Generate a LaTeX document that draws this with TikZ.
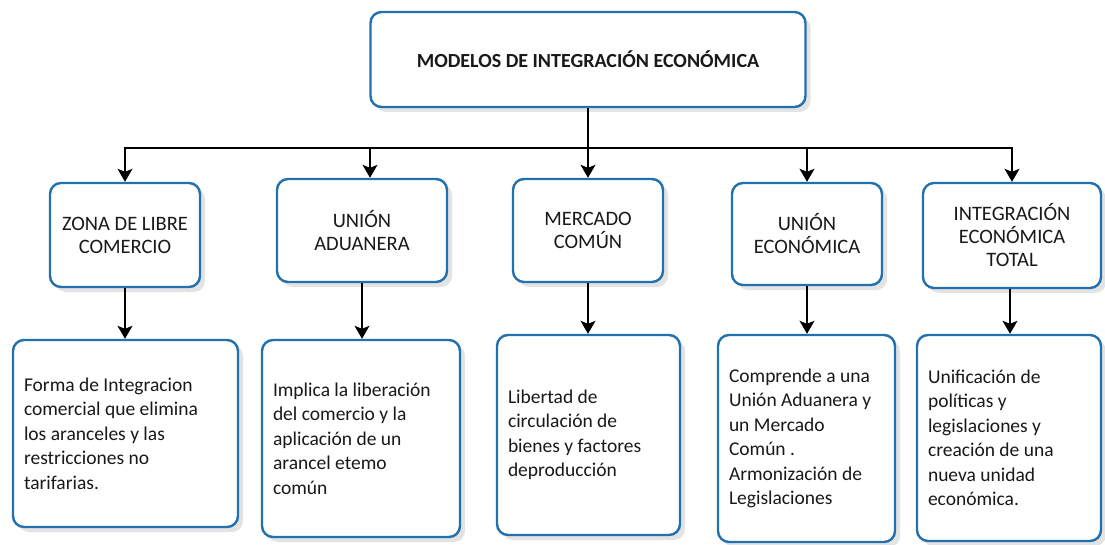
\documentclass[tikz,border=0pt]{standalone}
\usepackage{fontspec}
\setmainfont{Carlito}
\usetikzlibrary{arrows.meta,shadows}
\definecolor{boxblue}{RGB}{35,112,175}
\definecolor{inkgray}{RGB}{25,25,25}

\begin{document}
\begin{tikzpicture}[x=1pt,y=-1pt,
    box/.style={rectangle,rounded corners=11pt,draw=boxblue,line width=2.4pt,
      fill=white,text=inkgray,
      drop shadow={shadow xshift=5pt,shadow yshift=-5pt,opacity=.22}},
    head/.style={font=\fontsize{20}{24}\selectfont\bfseries},
    kind/.style={font=\fontsize{20.5}{23}\selectfont,align=center},
    desc/.style={font=\fontsize{19.5}{24.5}\selectfont,align=flush left,inner xsep=11pt},
    link/.style={draw=black,line width=1.4pt,
      -{Stealth[length=13pt,width=15pt,inset=3pt]}}]

    \useasboundingbox (0,0) rectangle (1105,545);

    % Top box
    \node[box,head,minimum width=435pt,minimum height=95pt] (top) at (588,59.5)
      {MODELOS DE INTEGRACIÓN ECONÓMICA};

    % Second row
    \node[box,kind,minimum width=150pt,minimum height=104pt] (zona) at (125,235)
      {ZONA DE LIBRE\\COMERCIO};
    \node[box,kind,minimum width=170pt,minimum height=103pt] (ua) at (362,230.5)
      {UNIÓN\\ADUANERA};
    \node[box,kind,minimum width=150pt,minimum height=103pt] (mc) at (588,230.5)
      {MERCADO\\COMÚN};
    \node[box,kind,minimum width=150pt,minimum height=102pt] (ue) at (807,234)
      {UNIÓN\\ECONÓMICA};
    \node[box,kind,minimum width=178pt,minimum height=105pt] (iet) at (1012,235.5)
      {INTEGRACIÓN\\ECONÓMICA\\TOTAL};

    % Description boxes
    \node[box,desc,text width=203pt,minimum height=187pt] (d1) at (125.5,433.5)
      {Forma de Integracion\\comercial que elimina\\los aranceles y las\\restricciones no\\tarifarias.};
    \node[box,desc,text width=176pt,minimum height=197pt] (d2) at (361,438.5)
      {Implica la liberación\\del comercio y la\\aplicación de un\\arancel etemo\\común};
    \node[box,desc,text width=161pt,minimum height=200pt] (d3) at (588.5,435)
      {Libertad de\\circulación de\\bienes y factores\\deproducción};
    \node[box,desc,text width=155pt,minimum height=207pt] (d4) at (806.5,438.5)
      {Comprende a una\\Unión Aduanera y\\un Mercado\\Común .\\Armonización de\\Legislaciones};
    \node[box,desc,text width=162pt,minimum height=206pt] (d5) at (1009,438)
      {Unificación de\\políticas y\\legislaciones y\\creación de una\\nueva unidad\\económica.};

    % Tree connectors
    \coordinate (hub) at ([yshift=-40pt]top.south);
    \coordinate (uain) at ([xshift=8pt]ua.north);
    \draw[link] (top.south) -- (hub) -- (zona.north |- hub)
      [rounded corners=6pt] -- (zona.north);
    \draw[link] (top.south) -- (hub) -- (uain |- hub)
      [rounded corners=6pt] -- (uain);
    \draw[link] (top.south) -- (mc.north);
    \draw[link] (top.south) -- (hub) -- (ue.north |- hub)
      [rounded corners=6pt] -- (ue.north);
    \draw[link] (top.south) -- (hub) -- (iet.north |- hub)
      [rounded corners=6pt] -- (iet.north);

    % Down to descriptions
    \draw[link] (zona.south) -- (zona.south |- d1.north);
    \draw[link] (ua.south) -- (ua.south |- d2.north);
    \draw[link] (mc.south) -- (mc.south |- d3.north);
    \draw[link] (ue.south) -- (ue.south |- d4.north);
    \draw[link] ([xshift=-2pt]iet.south) -- ([xshift=-2pt]iet.south |- d5.north);

  \end{tikzpicture}
\end{document}
